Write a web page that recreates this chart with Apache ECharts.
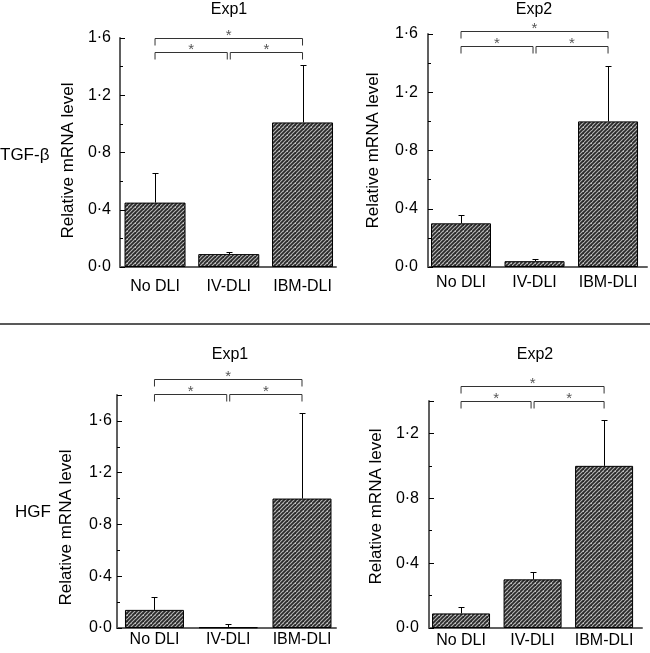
<!DOCTYPE html>
<html>
<head>
<meta charset="utf-8">
<script src="https://cdn.jsdelivr.net/npm/echarts@6/dist/echarts.min.js"></script>
<style>html,body{margin:0;padding:0;background:#fff}#c{width:650px;height:653px}</style>
</head>
<body>
<div id="c"></div>
<script>
// ---- data ----
const categories = ['No DLI', 'IV-DLI', 'IBM-DLI'];
const tgfExp1 = [0.45, 0.09, 1.01];
const tgfExp1Err = [0.21, 0.015, 0.40];
const tgfExp2 = [0.30, 0.04, 1.00];
const tgfExp2Err = [0.06, 0.015, 0.38];
const hgfExp1 = [0.14, 0.005, 1.00];
const hgfExp1Err = [0.10, 0.025, 0.66];
const hgfExp2 = [0.09, 0.30, 1.00];
const hgfExp2Err = [0.04, 0.045, 0.28];
const yTicks = [0, 0.4, 0.8, 1.2, 1.6];
const yTicksHgf2 = [0, 0.4, 0.8, 1.2];
const panelTitles = ['Exp1', 'Exp2', 'Exp1', 'Exp2'];
const rowLabels = ['TGF-\u03b2', 'HGF'];
const yAxisName = 'Relative mRNA level';
// significance brackets: [fromCategory, toCategory, level]
const bracketsTgf1 = [[0, 2, 1.60], [0, 1, 1.50], [1, 2, 1.50]];
const bracketsTgf2 = [[0, 2, 1.62], [0, 1, 1.52], [1, 2, 1.52]];
const bracketsHgf1 = [[0, 2, 1.92], [0, 1, 1.81], [1, 2, 1.81]];
const bracketsHgf2 = [[0, 2, 1.49], [0, 1, 1.40], [1, 2, 1.40]];

// ---- layout / style ----
const FONT = '"Liberation Sans", Arial, Helvetica, sans-serif';
const panels = [
  {vals: tgfExp1, errs: tgfExp1Err, br: bracketsTgf1, ticks: yTicks, ymax: 1.6,
   grid: {left: 120, top: 38, width: 216, bottom: 386}, xmin: -0.475, xmax: 2.454, bw: 61, lm: 12, ym: 9, ng: 43, ns: 8},
  {vals: tgfExp2, errs: tgfExp2Err, br: bracketsTgf2, ticks: yTicks, ymax: 1.6,
   grid: {left: 428, top: 34, width: 219, bottom: 386}, xmin: -0.449, xmax: 2.53, bw: 60, lm: 8, ym: 10, ng: 46, ns: 0},
  {vals: hgfExp1, errs: hgfExp1Err, br: bracketsHgf1, ticks: yTicks, ymax: 1.8,
   grid: {left: 117, top: 395, width: 219, bottom: 25}, xmin: -0.508, xmax: 2.461, bw: 59, lm: 4, ym: 5, ng: 42, ns: 16},
  {vals: hgfExp2, errs: hgfExp2Err, br: bracketsHgf2, ticks: yTicksHgf2, ymax: 1.4,
   grid: {left: 429, top: 401, width: 213, bottom: 25}, xmin: -0.448, xmax: 2.53, bw: 58, lm: 5, ym: 10, ng: 44, ns: -8}
];

function makeHatch() {
  const c = document.createElement('canvas');
  c.width = 8; c.height = 8;
  const g = c.getContext('2d');
  g.fillStyle = '#b8b8b8';
  g.fillRect(0, 0, 8, 8);
  g.strokeStyle = '#2a2a2a';
  g.lineWidth = 1.8;
  for (let k = -2; k <= 3; k++) {
    g.beginPath();
    g.moveTo(k * 4 - 8, 8);
    g.lineTo(k * 4 + 8, -8);
    g.stroke();
  }
  return c;
}
const hatch = makeHatch();

const fmt = v => v.toFixed(1).replace('.', '\u00b7');

const grids = [], xAxes = [], yAxes = [], series = [];
panels.forEach((p, i) => {
  grids.push(Object.assign({containLabel: false}, p.grid));
  xAxes.push({
    type: 'value', gridIndex: i, min: p.xmin, max: p.xmax,
    axisLine: {show: true, onZero: false, lineStyle: {color: '#606060', width: 2}},
    axisTick: {show: false}, splitLine: {show: false},
    axisLabel: {customValues: [0, 1, 2], formatter: v => categories[Math.round(v)] || '',
      color: '#000', fontSize: 16, fontFamily: FONT, margin: p.lm, showMinLabel: true, showMaxLabel: true}
  });
  const pad = p.ns >= 0 ? [0, 2 * p.ns, 0, 0] : [0, 0, 0, -2 * p.ns];
  // main y axis: line, labels, minor-length ticks every 0.2
  yAxes.push({
    type: 'value', gridIndex: i, min: 0, max: p.ymax, interval: 0.2, position: 'left',
    name: yAxisName, nameLocation: 'middle', nameGap: p.ng,
    nameTextStyle: {color: '#000', fontSize: 17, fontFamily: FONT, padding: pad},
    axisLine: {show: true, onZero: false, lineStyle: {color: '#606060', width: 2}},
    axisTick: {show: true, inside: true, length: 3, lineStyle: {color: '#000', width: 1}},
    axisLabel: {customValues: p.ticks, formatter: fmt, color: '#000', fontSize: 16, fontFamily: FONT, margin: p.ym},
    splitLine: {show: false}
  });
  // secondary y axis: major ticks every 0.4
  yAxes.push({
    type: 'value', gridIndex: i, min: 0, max: p.ymax, interval: 0.4, position: 'left',
    axisLine: {show: false, onZero: false}, axisLabel: {show: false}, splitLine: {show: false},
    axisTick: {show: true, inside: true, length: 5, lineStyle: {color: '#000', width: 1}}
  });
  const yIdx = i * 2;
  series.push({
    type: 'bar', xAxisIndex: i, yAxisIndex: yIdx, barWidth: p.bw,
    data: p.vals.map((v, k) => [k, v]),
    itemStyle: {color: {image: hatch, repeat: 'repeat'}, borderColor: '#000', borderWidth: 1},
    emphasis: {disabled: true}, animation: false
  });
  series.push({
    type: 'custom', xAxisIndex: i, yAxisIndex: yIdx, clip: false, animation: false, z: 5,
    data: p.vals.map((v, k) => [k, v, p.errs[k]]),
    encode: {x: 0, y: 1},
    renderItem: (params, api) => {
      const x = api.value(0), v = api.value(1), e = api.value(2);
      const p0 = api.coord([x, v]), p1 = api.coord([x, v + e]);
      const cx = Math.round(p0[0]) + 0.5, top = Math.round(p1[1]) + 0.5;
      return {type: 'group', children: [
        {type: 'line', shape: {x1: cx, y1: p0[1], x2: cx, y2: top}, style: {stroke: '#000', lineWidth: 1}},
        {type: 'line', shape: {x1: cx - 3, y1: top, x2: cx + 3, y2: top}, style: {stroke: '#000', lineWidth: 1}}
      ]};
    }
  });
  series.push({
    type: 'custom', xAxisIndex: i, yAxisIndex: yIdx, clip: false, animation: false, z: 5,
    data: p.br,
    encode: {x: [0, 1], y: 2},
    renderItem: (params, api) => {
      const x1 = api.value(0), x2 = api.value(1), lv = api.value(2);
      const a = api.coord([x1, lv]), b = api.coord([x2, lv]);
      let ax = a[0], bx = b[0];
      if (x1 === 1) ax += 1.5;
      if (x2 === 1) bx -= 1.5;
      const y = Math.round(a[1]) + 0.5, d = 7;
      return {type: 'group', children: [
        {type: 'polyline', shape: {points: [[ax, y + d], [ax, y], [bx, y], [bx, y + d]]},
         style: {stroke: '#333', lineWidth: 1, fill: null}},
        {type: 'text', x: (ax + bx) / 2, y: y + 5,
         style: {text: '*', fontSize: 15, fontFamily: FONT, fill: '#555', align: 'center', verticalAlign: 'bottom'}}
      ]};
    }
  });
});

const titleCenters = [[229, 10], [534, 10], [230, 355], [535, 355]];
const graphic = [];
panelTitles.forEach((t, i) => {
  graphic.push({type: 'text', x: titleCenters[i][0], y: titleCenters[i][1],
    style: {text: t, fontSize: 16, fontFamily: FONT, fill: '#000', align: 'center', verticalAlign: 'middle'}});
});
graphic.push({type: 'text', x: 0, y: 155,
  style: {text: rowLabels[0], fontSize: 17, fontFamily: FONT, fill: '#000', align: 'left', verticalAlign: 'middle'}});
graphic.push({type: 'text', x: 15, y: 512,
  style: {text: rowLabels[1], fontSize: 17, fontFamily: FONT, fill: '#000', align: 'left', verticalAlign: 'middle'}});
graphic.push({type: 'line', shape: {x1: 0, y1: 324, x2: 650, y2: 324}, style: {stroke: '#222', lineWidth: 1.5}});

const chart = echarts.init(document.getElementById('c'), null, {renderer: 'canvas'});
chart.setOption({
  animation: false,
  backgroundColor: '#fff',
  grid: grids, xAxis: xAxes, yAxis: yAxes, series: series, graphic: graphic
});
</script>
</body>
</html>
